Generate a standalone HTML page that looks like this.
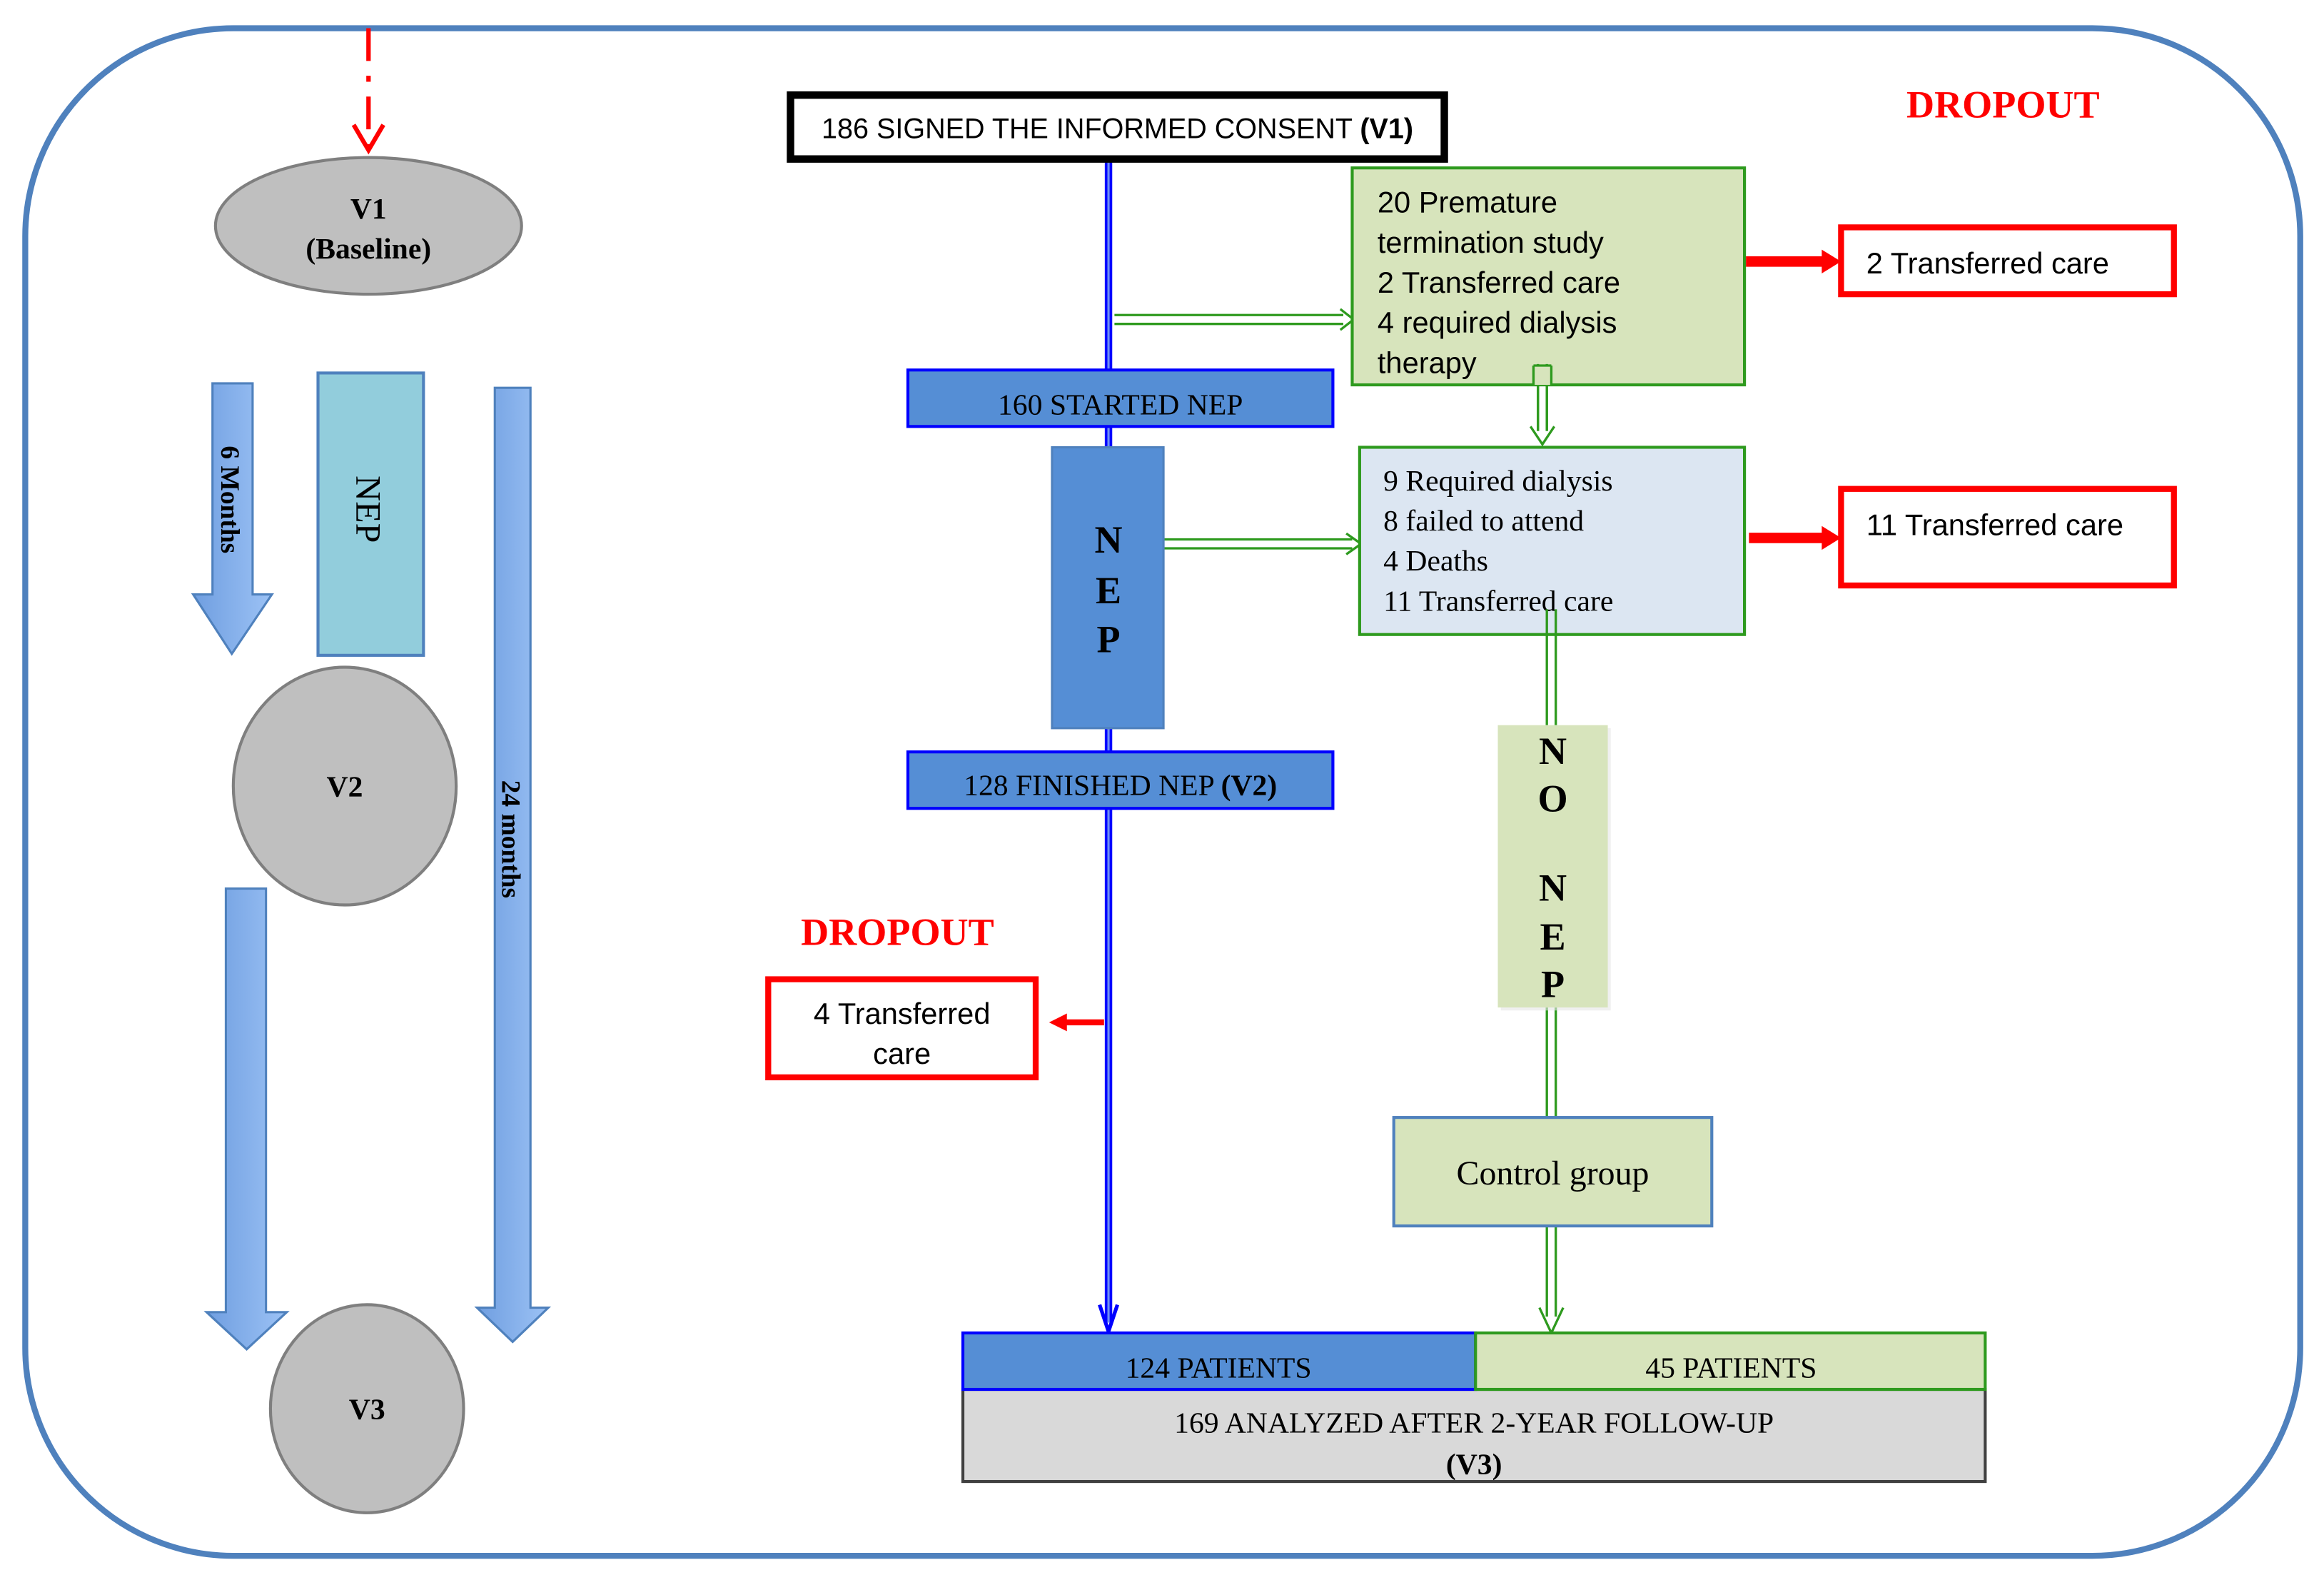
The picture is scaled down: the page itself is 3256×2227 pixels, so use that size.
<!DOCTYPE html>
<html><head><meta charset="utf-8"><style>
html,body{margin:0;padding:0;background:#fff}
svg{display:block}
.c{font-family:"Liberation Sans Narrow","Liberation Sans",sans-serif}
.t{font-family:"Liberation Serif",serif}
</style></head><body>
<svg width="3256" height="2227" viewBox="0 0 1564 1070" preserveAspectRatio="none" xmlns="http://www.w3.org/2000/svg">
<defs>
<linearGradient id="bl" x1="0" x2="1"><stop offset="0" stop-color="#6f9ee0"/><stop offset="1" stop-color="#9cc2f5"/></linearGradient>
</defs>
<rect x="17" y="19" width="1531" height="1028" rx="140" ry="140" fill="#fff" stroke="#4f81bd" stroke-width="4"/>
<!-- left column -->
<line x1="248" y1="19" x2="248" y2="98" stroke="#f00" stroke-width="3" stroke-dasharray="22,10,4,10"/>
<polyline points="238,84 248,101 258,84" fill="none" stroke="#f00" stroke-width="3"/>
<ellipse cx="248" cy="152" rx="103" ry="46" fill="#bfbfbf" stroke="#7f7f7f" stroke-width="2"/>
<text x="248" y="147" class="t" font-size="20" font-weight="bold" text-anchor="middle">V1</text>
<text x="248" y="174" class="t" font-size="20" font-weight="bold" text-anchor="middle">(Baseline)</text>
<path d="M143,258 H170 V400 H183 L156,440 L130,400 H143 Z" fill="url(#bl)" stroke="#4f81bd" stroke-width="1.5"/>
<text transform="translate(149,300) rotate(90)" class="t" font-size="18" font-weight="bold">6 Months</text>
<rect x="214" y="251" width="71" height="190" fill="#92cddc" stroke="#4f81bd" stroke-width="2"/>
<text transform="translate(240,320) rotate(90)" class="t" font-size="24">NEP</text>
<path d="M333,261 H357 V880 H369 L345,903 L321,880 H333 Z" fill="url(#bl)" stroke="#4f81bd" stroke-width="1.5"/>
<text transform="translate(338,525) rotate(90)" class="t" font-size="18" font-weight="bold">24 months</text>
<ellipse cx="232" cy="529" rx="75" ry="80" fill="#bfbfbf" stroke="#7f7f7f" stroke-width="2"/>
<text x="232" y="536" class="t" font-size="20" font-weight="bold" text-anchor="middle">V2</text>
<path d="M152,598 H179 V883 H193 L166,908 L139,883 H152 Z" fill="url(#bl)" stroke="#4f81bd" stroke-width="1.5"/>
<ellipse cx="247" cy="948" rx="65" ry="70" fill="#bfbfbf" stroke="#7f7f7f" stroke-width="2"/>
<text x="247" y="955" class="t" font-size="20" font-weight="bold" text-anchor="middle">V3</text>
<!-- main flow -->
<line x1="746" y1="105" x2="746" y2="890" stroke="#0000ff" stroke-width="5"/>
<line x1="746" y1="105" x2="746" y2="890" stroke="#6f8ff5" stroke-width="1.5"/>
<path d="M740,878 L746,896 L752,878" fill="none" stroke="#0000ff" stroke-width="2.5"/>
<rect x="532" y="64" width="440" height="43" fill="#fff" stroke="#000" stroke-width="5"/>
<text x="752" y="93" class="c" font-size="19" text-anchor="middle">186 SIGNED THE INFORMED CONSENT <tspan font-weight="bold">(V1)</tspan></text>
<!-- green arrows -->
<g fill="none" stroke="#2e9a1e" stroke-width="1.6">
<path d="M750,212 H904 M750,218 H904 M902,208 L911,215 L902,222"/>
<path d="M783,363 H910 M783,369 H910 M906,359 L916,366 L906,373"/>
<path d="M1035,245 V290 M1041,245 V290 M1030,287 L1038,299 L1046,287"/>
<path d="M1041,410 V488 M1047,410 V488"/>
<path d="M1041,678 V752 M1047,678 V752"/>
<path d="M1041,825 V886 M1047,825 V886 M1036,880 L1044,897 L1052,880"/>
</g>
<rect x="910" y="113" width="264" height="146" fill="#d7e4bc" stroke="#2e9a1e" stroke-width="2"/>
<g class="c" font-size="20">
<text x="927" y="143">20 Premature</text>
<text x="927" y="170">termination study</text>
<text x="927" y="197">2 Transferred care</text>
<text x="927" y="224">4 required dialysis</text>
<text x="927" y="251">therapy</text>
</g>
<path d="M1035,245 V290 M1041,245 V290" stroke="#2e9a1e" stroke-width="1.6"/>
<rect x="1032" y="246" width="12" height="13" fill="#d7e4bc"/>
<path d="M1032,246 V259 M1044,246 V259 M1032,246 H1044" fill="none" stroke="#2e9a1e" stroke-width="1.6"/>
<rect x="611" y="249" width="286" height="38" fill="#558ed5" stroke="#0000ff" stroke-width="2"/>
<text x="754" y="279" class="t" font-size="20" text-anchor="middle">160 STARTED NEP</text>
<rect x="708" y="301" width="75" height="189" fill="#558ed5" stroke="#4f81bd" stroke-width="1.5"/>
<g class="t" font-size="26" font-weight="bold" text-anchor="middle">
<text x="746" y="372">N</text><text x="746" y="406">E</text><text x="746" y="439">P</text>
</g>
<rect x="915" y="301" width="259" height="126" fill="#dce6f2" stroke="#2e9a1e" stroke-width="2"/>
<g class="t" font-size="20">
<text x="931" y="330">9  Required dialysis</text>
<text x="931" y="357">8 failed to attend</text>
<text x="931" y="384">4 Deaths</text>
<text x="931" y="411">11 Transferred care</text>
</g>
<path d="M1041,410 V427 M1047,410 V427" stroke="#2e9a1e" stroke-width="1.6"/>
<!-- red -->
<path d="M1175,176 H1228" stroke="#f00" stroke-width="7"/>
<path d="M1226,168 L1239,176 L1226,184 Z" fill="#f00"/>
<rect x="1239" y="153" width="224" height="45" fill="#fff" stroke="#f00" stroke-width="4"/>
<text x="1256" y="184" class="c" font-size="20">2 Transferred care</text>
<path d="M1177,362 H1228" stroke="#f00" stroke-width="7"/>
<path d="M1226,354 L1239,362 L1226,370 Z" fill="#f00"/>
<rect x="1239" y="329" width="224" height="65" fill="#fff" stroke="#f00" stroke-width="4"/>
<text x="1256" y="360" class="c" font-size="20">11 Transferred care</text>
<text x="1348" y="79" class="t" font-size="26" font-weight="bold" fill="#f00" text-anchor="middle">DROPOUT</text>
<text x="604" y="636" class="t" font-size="26" font-weight="bold" fill="#f00" text-anchor="middle">DROPOUT</text>
<path d="M743,688 H716" stroke="#f00" stroke-width="4"/>
<path d="M718,682 L706,688 L718,694 Z" fill="#f00"/>
<rect x="517" y="659" width="180" height="66" fill="#fff" stroke="#f00" stroke-width="4"/>
<text x="607" y="689" class="c" font-size="20" text-anchor="middle">4 Transferred</text>
<text x="607" y="716" class="c" font-size="20" text-anchor="middle">care</text>
<rect x="1010" y="490" width="74" height="190" fill="#e6e6e6" opacity="0.6"/>
<rect x="1008" y="488" width="74" height="190" fill="#d7e4bc"/>
<g class="t" font-size="26" font-weight="bold" text-anchor="middle">
<text x="1045" y="514">N</text><text x="1045" y="546">O</text>
<text x="1045" y="606">N</text><text x="1045" y="639">E</text><text x="1045" y="671">P</text>
</g>
<rect x="611" y="506" width="286" height="38" fill="#558ed5" stroke="#0000ff" stroke-width="2"/>
<text x="754" y="535" class="t" font-size="20" text-anchor="middle">128 FINISHED NEP <tspan font-weight="bold">(V2)</tspan></text>
<rect x="938" y="752" width="214" height="73" fill="#d7e4bc" stroke="#4f81bd" stroke-width="2"/>
<text x="1045" y="797" class="t" font-size="23" text-anchor="middle">Control group</text>
<rect x="648" y="935" width="688" height="62" fill="#d9d9d9" stroke="#404040" stroke-width="2"/>
<text x="992" y="964" class="t" font-size="20" text-anchor="middle">169 ANALYZED AFTER 2-YEAR FOLLOW-UP</text>
<text x="992" y="992" class="t" font-size="20" font-weight="bold" text-anchor="middle">(V3)</text>
<rect x="648" y="897" width="345" height="38" fill="#558ed5" stroke="#0000ff" stroke-width="2"/>
<rect x="993" y="897" width="343" height="38" fill="#d7e4bc" stroke="#2e9a1e" stroke-width="2"/>
<text x="820" y="927" class="t" font-size="20" text-anchor="middle">124 PATIENTS</text>
<text x="1165" y="927" class="t" font-size="20" text-anchor="middle">45 PATIENTS</text>
</svg>
</body></html>
